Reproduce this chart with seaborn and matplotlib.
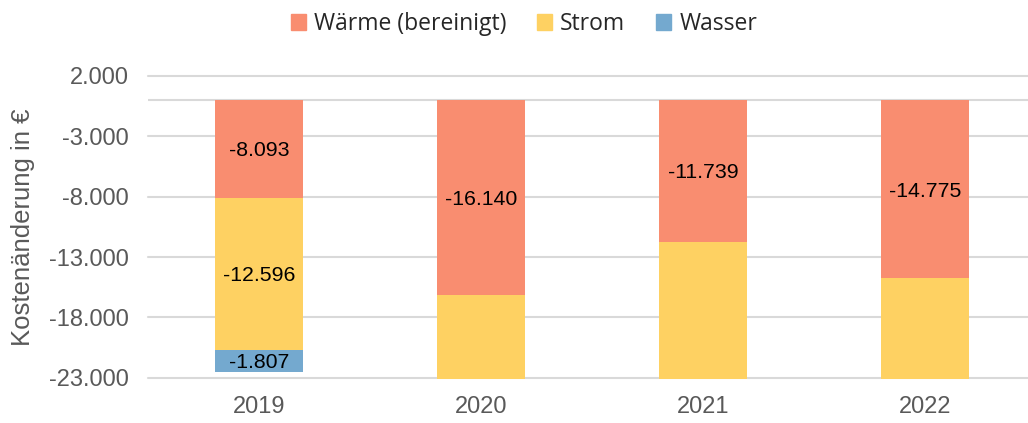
import matplotlib
matplotlib.use("Agg")
import matplotlib.pyplot as plt
import matplotlib.patches as mpatches
import matplotlib.transforms as mtransforms
import pandas as pd
import seaborn as sns


YEARS = ["2019", "2020", "2021", "2022"]
WAERME = [-8093, -16140, -11739, -14775]
STROM = [-12596, -12400, -12900, -12700]
WASSER = [-1807, -1800, -1750, -1850]

SERIES = ["Wärme (bereinigt)", "Strom", "Wasser"]
COLORS = ["#F98D70", "#FED162", "#74A9CF"]

Y_MIN, Y_MAX = -23130, 2000
Y_TICKS = [2000, -3000, -8000, -13000, -18000, -23000]


def de_format(value) -> str:
    return f"{int(value):,}".replace(",", ".")


def build_frame() -> pd.DataFrame:
    df = pd.DataFrame({"jahr": YEARS, "waerme": WAERME, "strom": STROM, "wasser": WASSER})
    df["cum_waerme"] = df["waerme"]
    df["cum_strom"] = df["cum_waerme"] + df["strom"]
    df["cum_wasser"] = df["cum_strom"] + df["wasser"]
    return df


def main():
    sns.set_theme(style="white")
    plt.rcParams["font.family"] = ["Liberation Sans", "DejaVu Sans"]

    df = build_frame()
    fig = plt.figure(figsize=(10.28, 4.23), dpi=100)
    ax = fig.add_axes([148 / 1028, 1 - 379.3 / 423, 880 / 1028, (379.3 - 76) / 423])

    # stacked bars by overdrawing cumulative totals, deepest first
    for col, color in zip(["cum_wasser", "cum_strom", "cum_waerme"], COLORS[::-1]):
        sns.barplot(data=df, x="jahr", y=col, color=color, width=0.4,
                    saturation=1, edgecolor="none", ax=ax, zorder=3)

    ax.set_xlim(-0.5, 3.5 - 8 / 222)
    ax.set_ylim(Y_MIN, Y_MAX)
    ax.set_yticks(Y_TICKS)
    ax.set_yticklabels([de_format(v) for v in Y_TICKS])
    for y in Y_TICKS:
        ax.axhline(y, color="#D9D9D9", lw=1.5, zorder=1, clip_on=False)
    ax.axhline(0, color="#D9D9D9", lw=1.5, zorder=2)

    for side in ["top", "right", "left", "bottom"]:
        ax.spines[side].set_visible(False)
    ax.tick_params(axis="both", length=0, labelsize=17, colors="#595959")
    ax.tick_params(axis="y", pad=14)
    ax.tick_params(axis="x", pad=12)
    ax.set_xlabel("")
    ax.set_ylabel("Kostenänderung in €", fontsize=18.5, color="#595959", labelpad=10)

    # data labels in the middle of each segment, only if the segment is fully visible
    shift = mtransforms.offset_copy(ax.transData, fig=fig, x=0, y=-2, units="dots")
    for i in range(len(YEARS)):
        segments = [
            (0, df["cum_waerme"][i], df["waerme"][i]),
            (df["cum_waerme"][i], df["cum_strom"][i], df["strom"][i]),
            (df["cum_strom"][i], df["cum_wasser"][i], df["wasser"][i]),
        ]
        for top, bottom, value in segments:
            if bottom < Y_MIN:
                continue
            ax.text(i, (top + bottom) / 2, de_format(value), ha="center", va="center",
                    fontsize=15.3, color="black", zorder=4, transform=shift)

    handles = [mpatches.Patch(color=c, label=s) for s, c in zip(SERIES, COLORS)]
    fig.legend(handles=handles, loc="center", bbox_to_anchor=(524 / 1028, 1 - 24 / 423),
               ncol=3, frameon=False, prop={"family": ["Open Sans", "DejaVu Sans"], "size": 16.5},
               handlelength=0.65, handleheight=0.65, handletextpad=0.35, columnspacing=1.35)

    fig.savefig("out.png", dpi=100)
    plt.close(fig)


if __name__ == "__main__":
    main()
